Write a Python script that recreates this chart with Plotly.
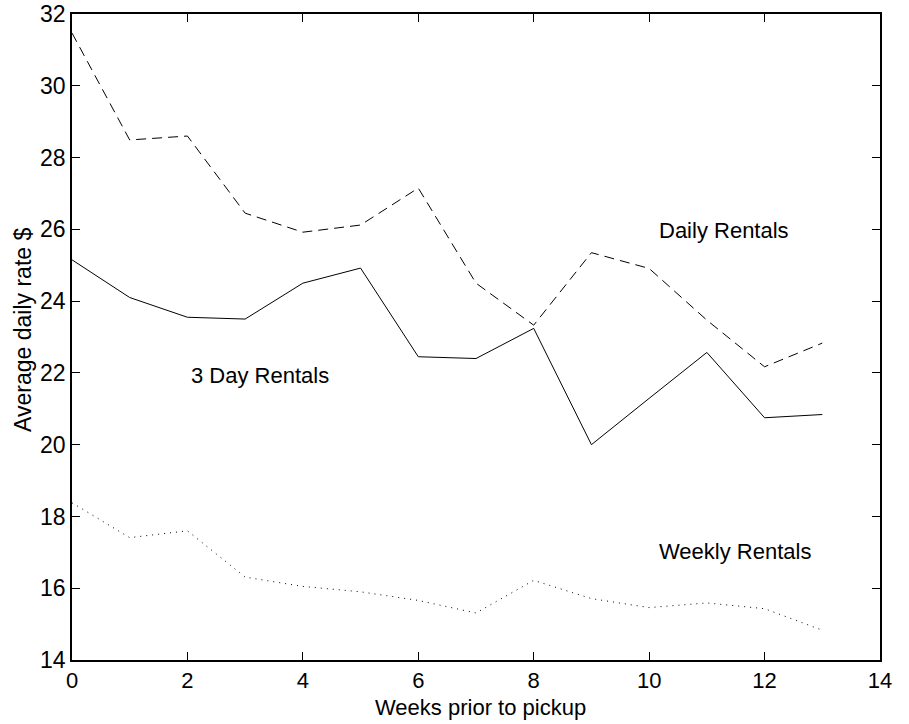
import plotly.graph_objects as go

weeks = list(range(14))
daily = [31.47, 28.49, 28.6, 26.45, 25.92, 26.12, 27.15, 24.5, 23.33, 25.35, 24.91, 23.47, 22.17, 22.83]
three_day = [25.15, 24.1, 23.55, 23.5, 24.5, 24.92, 22.45, 22.4, 23.24, 20.0, 21.29, 22.57, 20.75, 20.84]
weekly = [18.38, 17.41, 17.6, 16.31, 16.05, 15.9, 15.66, 15.31, 16.22, 15.71, 15.46, 15.59, 15.43, 14.83]

labels = ["Daily Rentals", "3 Day Rentals", "Weekly Rentals"]
label_x = [10.14, 2.03, 10.14]
label_y = [25.98, 21.94, 17.03]

x_title = "Weeks prior to pickup"
y_title = "Average daily rate $"

font_family = "Liberation Sans, Arial, sans-serif"

fig = go.Figure()
fig.add_trace(go.Scatter(x=weeks, y=daily, mode="lines",
                         line=dict(color="black", width=1, dash="10px,6px")))
fig.add_trace(go.Scatter(x=weeks, y=three_day, mode="lines",
                         line=dict(color="black", width=1)))
fig.add_trace(go.Scatter(x=weeks, y=weekly, mode="lines",
                         line=dict(color="black", width=1, dash="1px,5px")))

for t, xx, yy in zip(labels, label_x, label_y):
    fig.add_annotation(x=xx, y=yy, text=t, showarrow=False, xanchor="left",
                       yanchor="middle", font=dict(family=font_family, size=22, color="black"))

# axis titles
fig.add_annotation(xref="paper", yref="paper", x=0.505, y=0, yshift=-47,
                   text=x_title, showarrow=False, xanchor="center", yanchor="middle",
                   font=dict(family=font_family, size=22, color="black"))
fig.add_annotation(xref="paper", yref="paper", x=0, y=0.511, xshift=-49,
                   text=y_title, showarrow=False, textangle=-90,
                   xanchor="center", yanchor="middle",
                   font=dict(family=font_family, size=23, color="black"))

axis_common = dict(showline=True, linecolor="black", linewidth=1.5, mirror="ticks",
                   ticks="inside", ticklen=8, tickcolor="black", showgrid=False,
                   zeroline=False, automargin=False, ticklabeloverflow="allow")

fig.update_layout(
    width=909, height=724,
    margin=dict(l=72, r=29, t=14, b=64),
    paper_bgcolor="white", plot_bgcolor="white",
    showlegend=False,
    xaxis=dict(range=[0, 14], dtick=2, tick0=0, ticklabelstandoff=0,
               tickfont=dict(family=font_family, size=22, color="black"), **axis_common),
    yaxis=dict(range=[14, 32], dtick=2, tick0=14, ticklabelstandoff=0,
               tickfont=dict(family=font_family, size=23, color="black"), **axis_common),
)

fig.write_html("out.html", config={"displayModeBar": False},
               post_script="document.body.style.margin='0';")
